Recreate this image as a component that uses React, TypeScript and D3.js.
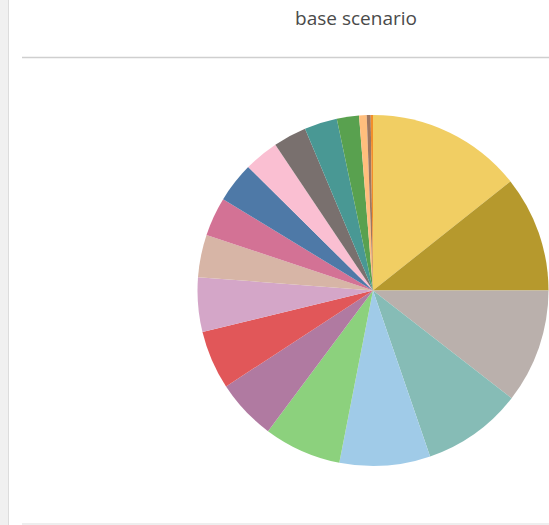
import React from "react";
import * as d3 from "d3";

const title = "base scenario";
const categories = [
  "Category 1", "Category 2", "Category 3", "Category 4", "Category 5",
  "Category 6", "Category 7", "Category 8", "Category 9", "Category 10",
  "Category 11", "Category 12", "Category 13", "Category 14", "Category 15",
  "Category 16", "Category 17", "Category 18", "Category 19",
];
const values = [
  14.32, 10.68, 10.51, 9.21, 8.35, 7.13, 5.59, 5.41, 5.0, 3.92,
  3.58, 3.7, 3.2, 3.06, 3.02, 2.04, 0.7, 0.36, 0.21,
];
const sliceColors = [
  "#F1CE63", "#B6992D", "#BAB0AC", "#86BCB6", "#A0CBE8", "#8CD17D",
  "#B07AA1", "#E15759", "#D4A6C8", "#D7B5A6", "#D37295", "#4E79A7",
  "#FABFD2", "#79706E", "#499894", "#59A14F", "#FFBE7D", "#9D7660", "#F28E2B",
];

const W = 549;
const H = 525;

export default function App() {
  const data = categories.map((c, i) => ({ name: c, value: values[i] }));
  const pie = d3.pie<{ name: string; value: number }>().sort(null).value((d) => d.value);
  const arcs = pie(data);
  const cx = 373;
  const cy = 290.5;
  const r = 175.5;
  const arc = d3.arc<d3.PieArcDatum<{ name: string; value: number }>>().innerRadius(0).outerRadius(r);
  const color = d3.scaleOrdinal<string, string>().domain(categories).range(sliceColors);

  return (
    <svg
      width={W}
      height={H}
      style={{ position: "absolute", left: 0, top: 0, background: "#fff" }}
    >
      <rect x={0} y={0} width={8} height={H} fill="#f0f0f0" />
      <line x1={8.5} x2={8.5} y1={0} y2={H} stroke="#dcdcdc" strokeWidth={1} />
      <text
        x={356}
        y={25}
        textAnchor="middle"
        fontFamily="'Open Sans', sans-serif"
        fontSize={19}
        fill="#4a4a4a"
      >
        {title}
      </text>
      <line x1={22} x2={W} y1={57.5} y2={57.5} stroke="#cfcfcf" strokeWidth={1.5} />
      <line x1={22} x2={W} y1={524} y2={524} stroke="#e8e8e8" strokeWidth={1.5} />
      <g transform={`translate(${cx},${cy})`}>
        {arcs.map((a, i) => (
          <path key={i} d={arc(a) || ""} fill={color(a.data.name)} />
        ))}
      </g>
    </svg>
  );
}
